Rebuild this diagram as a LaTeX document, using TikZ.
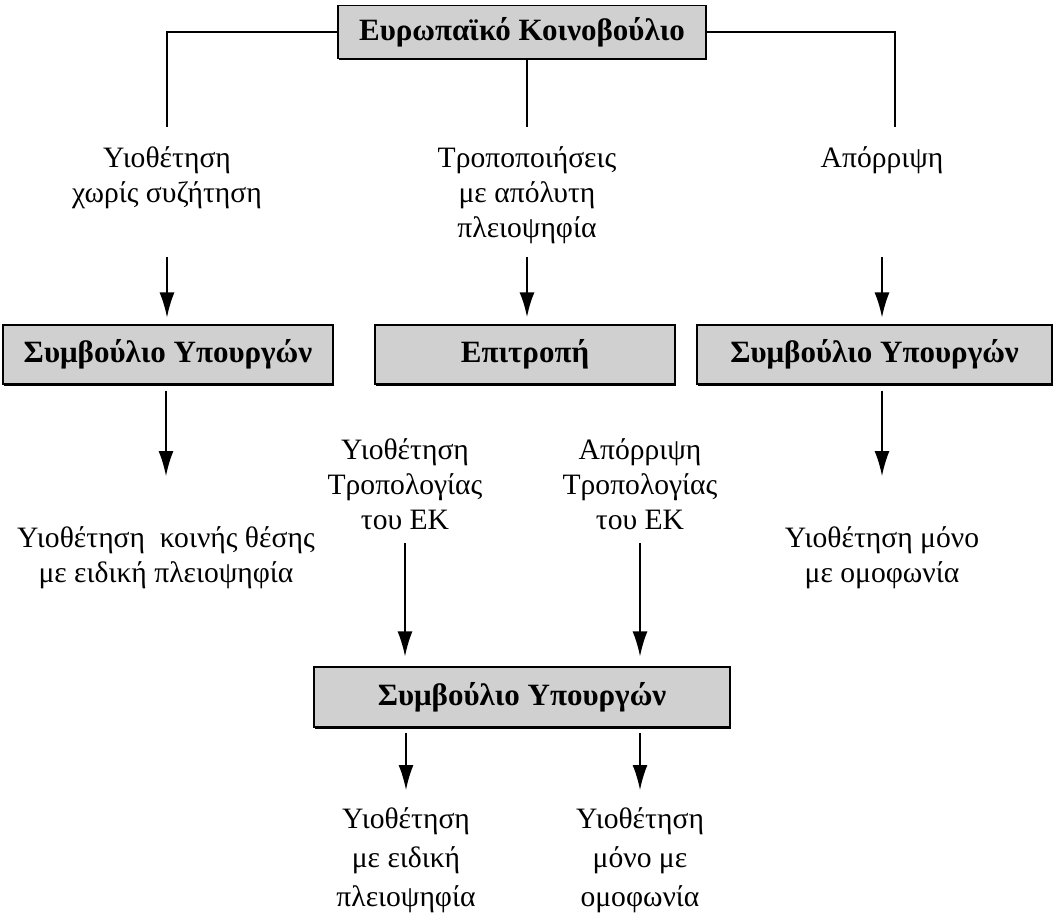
\documentclass[tikz,border=0pt]{standalone}
\usepackage{fontspec}
\setmainfont{Liberation Serif}
\usepackage{tikz}
\usetikzlibrary{arrows.meta,shadows}
\definecolor{boxgray}{RGB}{208,208,208}
\tikzstyle{organ}=[draw, line width=0.6pt, fill=boxgray, font=\fontsize{15.5}{18}\selectfont\bfseries, minimum height=29.5pt, drop shadow={shadow xshift=0.7pt, shadow yshift=-0.9pt, fill=black, opacity=1}]
\tikzstyle{outcome}=[align=center, inner sep=0pt, anchor=north, font=\fontsize{14.8}{17.5}\selectfont]
\tikzstyle{link}=[line width=0.8pt]

\begin{document}
\begin{tikzpicture}[x=0.5pt,y=-0.5pt,>={Latex[length=12.5pt,width=7.5pt]}]
	\useasboundingbox (0,0) rectangle (1058,915);
	\node [organ, minimum width=184pt, minimum height=26.5pt] (ek) at (522,32) {Ευρωπαϊκό Κοινοβούλιο};
	\node [outcome] (yiot) at (167,146) {Υιοθέτηση\\χωρίς συζήτηση};
	\node [outcome] (trop) at (527,146) {Τροποποιήσεις\\με απόλυτη\\πλειοψηφία};
	\node [outcome] (apor) at (882,146) {Απόρριψη};
	\node [organ, minimum width=165pt] (sy1) at (168,354.5) {Συμβούλιο Υπουργών};
	\node [organ, minimum width=150pt] (epit) at (525,354.5) {Επιτροπή};
	\node [organ, minimum width=177.5pt] (sy2) at (874.5,354.5) {Συμβούλιο Υπουργών};
	\node [outcome] (ytr) at (405,438) {Υιοθέτηση\\Τροπολογίας\\του ΕΚ};
	\node [outcome] (atr) at (640,438) {Απόρριψη\\Τροπολογίας\\του ΕΚ};
	\node [outcome] (koin) at (166,526) {Υιοθέτηση~ κοινής θέσης\\με ειδική πλειοψηφία};
	\node [outcome] (omof) at (882,526) {Υιοθέτηση μόνο\\με ομοφωνία};
	\node [organ, minimum width=208pt, minimum height=30pt] (sy3) at (522,697) {Συμβούλιο Υπουργών};
	\node [outcome, font=\fontsize{14.8}{19.5}\selectfont] (eid) at (406,807) {Υιοθέτηση\\με ειδική\\πλειοψηφία};
	\node [outcome, font=\fontsize{14.8}{19.5}\selectfont] (mon) at (640,807) {Υιοθέτηση\\μόνο με\\ομοφωνία};
	\draw[link, shorten >=9.5pt] (ek.west) -| (yiot);
	\draw[link, shorten >=9.5pt] (ek.south -| trop) -- (trop);
	\draw[link, shorten >=9.5pt] (ek.east) -| ([xshift=6.5pt]apor.north);
	\path[->, link, shorten >=3.5pt]
	(yiot) edge[shorten <=24pt] (yiot |- sy1.north)
	(trop) edge[shorten <=6.5pt, line width=1.2pt] (trop |- epit.north)
	(apor) edge[shorten <=41.5pt] (apor |- sy2.north);
	\path[->, link, shorten <=3pt, shorten >=25pt]
	(sy1.south -| koin) edge (koin)
	(sy2.south -| omof) edge (omof);
	\path[->, link, shorten <=6.5pt, shorten >=5pt]
	(ytr) edge (ytr |- sy3.north)
	(atr) edge (atr |- sy3.north);
	\path[->, link, shorten <=2.5pt, shorten >=8.5pt]
	(sy3.south -| eid) edge (eid)
	(sy3.south -| mon) edge (mon);
\end{tikzpicture}
\end{document}
